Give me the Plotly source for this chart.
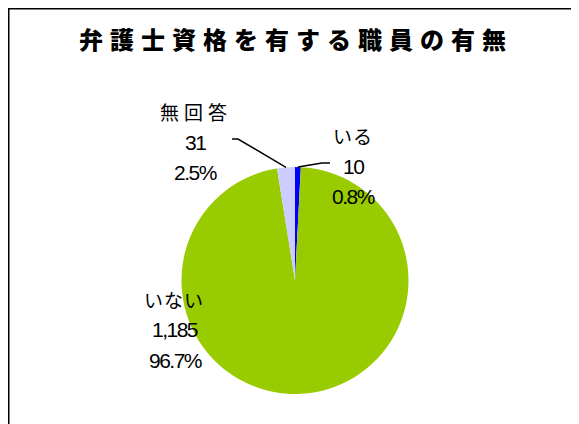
import math
import plotly.graph_objects as go

title = "弁護士資格を有する職員の有無"
labels = ["いる", "いない", "無回答"]
values = [10, 1185, 31]
colors = ["#0000FF", "#99CC00", "#CCCCFF"]

W, H = 579, 424
OFF = 8  # page body margin offset
total = sum(values)
percents = [f"{v / total * 100:.1f}%" for v in values]
counts = [f"{v:,}" for v in values]

# pie geometry (page pixels)
CX, CY, R = 295, 280.5, 113.5


def px(x):
    return (x - OFF) / W


def py(y):
    return 1 - (y - OFF) / H


fig = go.Figure(go.Pie(
    labels=labels, values=values, sort=False, direction="clockwise", rotation=0,
    marker=dict(colors=colors, line=dict(width=0)),
    textinfo="none", hoverinfo="skip",
    domain=dict(x=[px(CX - R), px(CX + R)], y=[py(CY + R), py(CY - R)]),
))

NUM_FONT = dict(family="Liberation Sans, Arial, Noto Sans CJK JP", size=21, color="#000000")
JP_FONT = dict(family="Noto Sans CJK JP", size=19, color="#000000")

# label block centers (page pixels): x, y of first line
label_pos = {"いる": (352, 136), "いない": (173.5, 299), "無回答": (193.5, 112)}
spacing_chars = {"いる": 1, "いない": 1, "無回答": 5}
LINE_GAP = 30.5

annotations = []
for lab, cnt, pct in zip(labels, counts, percents):
    x0, y0 = label_pos[lab]
    annotations.append(dict(
        x=px(x0 + spacing_chars[lab] / 2), y=py(y0), xref="paper", yref="paper",
        text=f'<span style="letter-spacing:{spacing_chars[lab]}px">{lab}</span>',
        showarrow=False, xanchor="center", yanchor="middle", font=JP_FONT,
    ))
    for i, t in enumerate([cnt, pct], start=1):
        annotations.append(dict(
            x=px(x0 + 1.5), y=py(y0 + i * LINE_GAP), xref="paper", yref="paper",
            text=f'<span style="letter-spacing:-1.5px">{t}</span>',
            showarrow=False, xanchor="center", yanchor="middle", font=NUM_FONT,
        ))

annotations.append(dict(
    x=px(296), y=py(38), xref="paper", yref="paper",
    text=f'<span style="letter-spacing:7px">{title}</span>',
    showarrow=False, xanchor="center", yanchor="middle",
    font=dict(family="Noto Sans CJK JP", size=24, color="#000000", weight=900),
))

# leader lines from slice mid-angles
cum = 0
mid_angles = []
for v in values:
    mid_angles.append((cum + v / 2) / total * 360)
    cum += v


def edge_point(deg):
    a = math.radians(deg)
    return CX + R * math.sin(a), CY - R * math.cos(a)


def path_of(pts):
    return "M " + " L ".join(f"{px(a)},{py(b)}" for a, b in pts)


shapes = []
ex, ey = edge_point(mid_angles[0])
shapes.append(dict(type="path", xref="paper", yref="paper",
                   path=path_of([(ex, ey), (322, 163), (330, 163)]),
                   line=dict(color="black", width=1.5)))
ex, ey = edge_point(mid_angles[2])
shapes.append(dict(type="path", xref="paper", yref="paper",
                   path=path_of([(232, 139), (238, 139), (ex, ey)]),
                   line=dict(color="black", width=1.5)))

# chart frame
shapes.append(dict(type="rect", xref="paper", yref="paper",
                   x0=px(8.5), x1=px(W + 30), y0=py(H + 30), y1=py(8.5),
                   line=dict(color="black", width=2), fillcolor="rgba(0,0,0,0)"))

fig.update_layout(
    width=W, height=H, margin=dict(l=0, r=0, t=0, b=0),
    paper_bgcolor="white", plot_bgcolor="white", showlegend=False,
    annotations=annotations, shapes=shapes,
)

fig.write_html("out.html")
